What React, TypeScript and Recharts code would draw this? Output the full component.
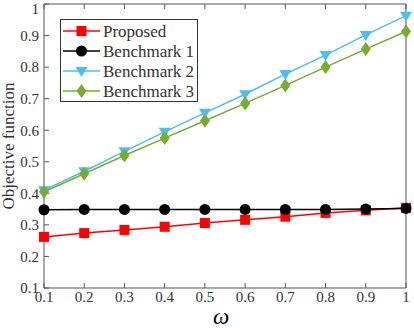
import React from 'react';
import { LineChart, Line, XAxis, YAxis } from 'recharts';

const omega = [0.1, 0.2, 0.3, 0.4, 0.5, 0.6, 0.7, 0.8, 0.9, 1];
const proposed = [0.262, 0.274, 0.284, 0.294, 0.306, 0.316, 0.326, 0.338, 0.346, 0.354];
const benchmark1 = [0.348, 0.349, 0.349, 0.349, 0.349, 0.349, 0.349, 0.349, 0.35, 0.352];
const benchmark2 = [0.41, 0.47, 0.533, 0.595, 0.655, 0.714, 0.778, 0.838, 0.902, 0.963];
const benchmark3 = [0.405, 0.462, 0.52, 0.575, 0.63, 0.685, 0.742, 0.8, 0.857, 0.913];
const yTicks = [0.1, 0.2, 0.3, 0.4, 0.5, 0.6, 0.7, 0.8, 0.9, 1];

const data = omega.map((w, i) => ({
  w,
  proposed: proposed[i],
  b1: benchmark1[i],
  b2: benchmark2[i],
  b3: benchmark3[i],
}));

type Shape = 'square' | 'circle' | 'triangle' | 'diamond';

const series: { key: string; name: string; color: string; shape: Shape }[] = [
  { key: 'proposed', name: 'Proposed', color: '#ff0000', shape: 'square' },
  { key: 'b1', name: 'Benchmark 1', color: '#000000', shape: 'circle' },
  { key: 'b2', name: 'Benchmark 2', color: '#4dbeee', shape: 'triangle' },
  { key: 'b3', name: 'Benchmark 3', color: '#77ac30', shape: 'diamond' },
];

const FONT = 'Liberation Serif';
const AXIS = '#555';
const TEXT = '#333';

function Marker({ cx, cy, shape, color }: { cx: number; cy: number; shape: Shape; color: string }) {
  if (cx == null || cy == null) return null;
  if (shape === 'square') return <rect x={cx - 5} y={cy - 5} width={10} height={10} fill={color} />;
  if (shape === 'circle') return <circle cx={cx} cy={cy} r={5.5} fill={color} />;
  if (shape === 'triangle')
    return <path d={`M${cx - 6},${cy - 4} L${cx + 6},${cy - 4} L${cx},${cy + 6} Z`} fill={color} />;
  return <path d={`M${cx},${cy - 7} L${cx + 5},${cy} L${cx},${cy + 7} L${cx - 5},${cy} Z`} fill={color} />;
}

const fmt = (v: number) => String(Number(v.toFixed(1)));

const BottomTick = ({ x, y, payload }: any) => (
  <text x={x} y={y} dy="0.71em" textAnchor="middle" fontSize={15} fontFamily={FONT} fill={TEXT}>
    {fmt(payload.value)}
  </text>
);

const LeftTick = ({ x, y, payload }: any) => (
  <text x={x} y={y} dy="0.355em" textAnchor="end" fontSize={15} fontFamily={FONT} fill={TEXT}>
    {fmt(payload.value)}
  </text>
);

export default function App() {
  return (
    <div style={{ position: 'absolute', left: 0, top: 0, width: 414, height: 328, background: '#fff' }}>
      <LineChart width={414} height={328} data={data} margin={{ top: 0, right: 0, bottom: 0, left: 0 }}>
        <XAxis
          dataKey="w"
          type="number"
          domain={[0.1, 1]}
          ticks={omega}
          height={40}
          tickSize={-5}
          tickMargin={8}
          stroke={AXIS}
          tick={BottomTick}
        />
        <XAxis
          xAxisId="top"
          orientation="top"
          dataKey="w"
          type="number"
          domain={[0.1, 1]}
          ticks={omega}
          height={4}
          tickSize={-5}
          stroke={AXIS}
          tick={() => <g />}
        />
        <YAxis
          type="number"
          domain={[0.1, 1]}
          ticks={yTicks}
          width={44}
          tickSize={-5}
          tickMargin={10}
          stroke={AXIS}
          tick={LeftTick}
        />
        <YAxis
          yAxisId="right"
          orientation="right"
          type="number"
          domain={[0.1, 1]}
          ticks={yTicks}
          width={8}
          tickSize={-5}
          stroke={AXIS}
          tick={() => <g />}
        />
        {series.map((s) => (
          <Line
            key={s.key}
            dataKey={s.key}
            name={s.name}
            stroke={s.color}
            strokeWidth={1.5}
            isAnimationActive={false}
            dot={(p: any) => <Marker key={`${s.key}-${p.index}`} cx={p.cx} cy={p.cy} shape={s.shape} color={s.color} />}
            activeDot={false}
          />
        ))}
      </LineChart>
      <svg width={414} height={328} style={{ position: 'absolute', left: 0, top: 0, pointerEvents: 'none' }}>
        <text
          transform="translate(14,146) rotate(-90)"
          textAnchor="middle"
          fontSize={17}
          fontFamily={FONT}
          fill={TEXT}
        >
          Objective function
        </text>
        <text x={221} y={324} textAnchor="middle" fontSize={23} fontStyle="italic" fontFamily={FONT} fill="#000">
          ω
        </text>
        <rect x={60.5} y={19.5} width={137} height={82} fill="#fff" stroke="#333" strokeWidth={1} />
        {series.map((s, i) => {
          const cy = 31 + i * 20;
          return (
            <g key={s.key}>
              <line x1={63} x2={100} y1={cy} y2={cy} stroke={s.color} strokeWidth={1.5} />
              <Marker cx={81.5} cy={cy} shape={s.shape} color={s.color} />
              <text x={103} y={cy + 5.5} fontSize={17} fontFamily={FONT} fill={TEXT}>
                {s.name}
              </text>
            </g>
          );
        })}
      </svg>
    </div>
  );
}
